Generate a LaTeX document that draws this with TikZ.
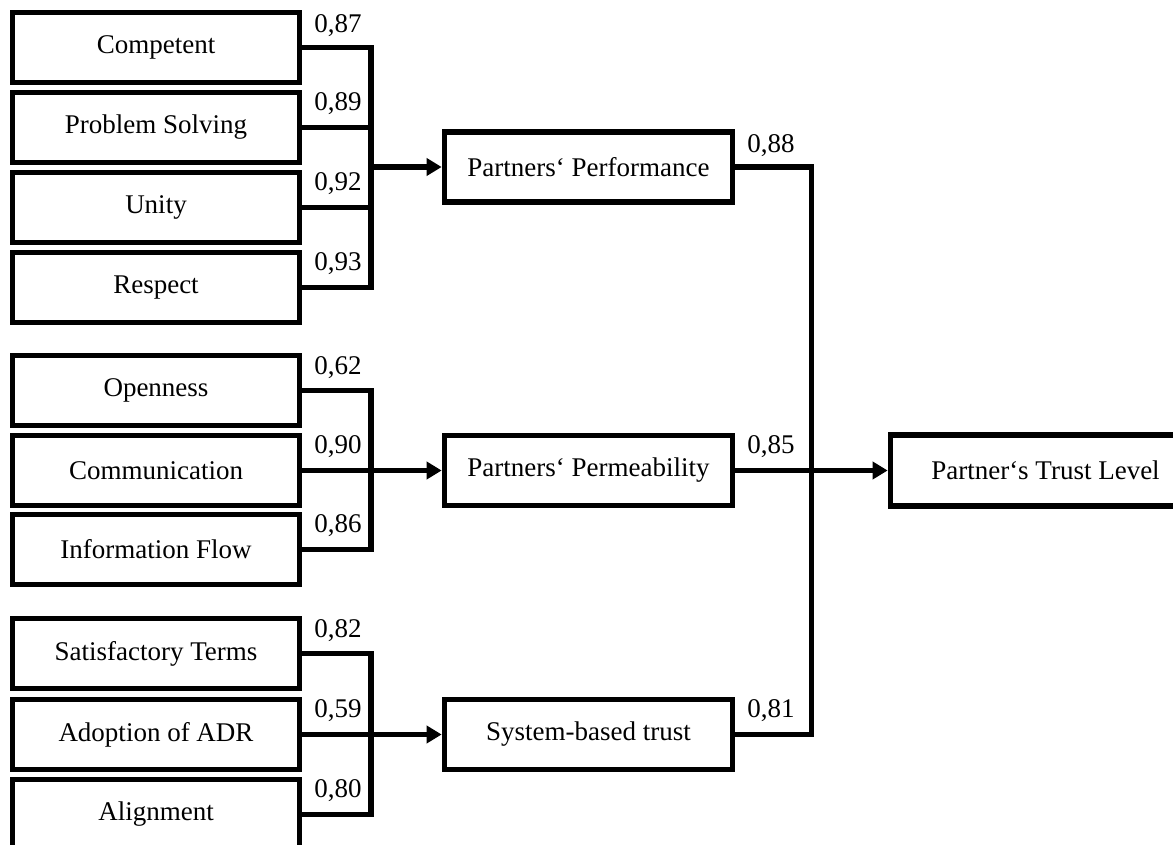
\documentclass[tikz,border=0pt]{standalone}
\usepackage{fontspec}
\setmainfont{Liberation Serif}
\usetikzlibrary{arrows.meta}
\begin{document}
\begin{tikzpicture}[x=1pt,y=-1pt,
  every node/.style={font=\fontsize{27}{32}\selectfont, inner sep=0pt},
  itembox/.style={draw, line width=5.7pt, minimum width=287pt, minimum height=70pt},
  factorbox/.style={draw, line width=5.7pt, minimum width=288pt, minimum height=70pt},
  link/.style={line width=5.7pt},
  flow/.style={line width=5.7pt, -{Triangle[length=15pt,width=17pt]}},
  weight/.style={anchor=base}]
\useasboundingbox[fill=white] (0,0) rectangle (1173,845);
\clip (0,0) rectangle (1173,845);

% indicator items
\node[itembox] (comp) at (156,47.5) {Competent};
\node[itembox] (prob) at (156,127.5) {Problem Solving};
\node[itembox] (unit) at (156,207.5) {Unity};
\node[itembox] (resp) at (156,287.5) {Respect};

\node[itembox] (open) at (156,390.5) {Openness};
\node[itembox] (comm) at (156,470.5) {Communication};
\node[itembox] (info) at (156,549.5) {Information Flow};

\node[itembox] (sati) at (156,653.5) {Satisfactory Terms};
\node[itembox] (adop) at (156,734.5) {Adoption of ADR};
\node[itembox] (alig) at (156,814.5) {Alignment};

% latent factors
\node[factorbox] (perf) at (588.5,167) {Partners‘ Performance};
\node[factorbox] (perm) at (588.5,470.5) {Partners‘ Permeability};
\node[factorbox] (syst) at (588.5,734.5) {System-based trust};

% overall construct
\node[draw, line width=5.7pt, minimum width=310pt, minimum height=71pt] (trst) at (1045.5,470.5) {Partner‘s Trust Level};

% junction points
\coordinate (ja) at (371,167);
\coordinate (jb) at (371,470.5);
\coordinate (jc) at (371,734.5);
\coordinate (jd) at (811.5,470.5);

% group 1
\draw[link] (comp.east) -| (ja) |- (resp.east);
\draw[link] (prob.east) -- (prob.east -| ja);
\draw[link] (unit.east) -- (unit.east -| ja);
\draw[flow] (ja) -- (perf.west);

% group 2
\draw[link] (open.east) -| (jb) |- (info.east);
\draw[flow] (comm.east) -- (perm.west);

% group 3
\draw[link] (sati.east) -| (jc) |- (alig.east);
\draw[flow] (adop.east) -- (syst.west);

% factors to construct
\draw[link] (perf.east) -| (jd) |- (syst.east);
\draw[flow] (perm.east) -- (trst.west);

% loadings
\node[weight] (w1) at (338,33) {0,87};
\node[weight] (w2) at (338,111) {0,89};
\node[weight] (w3) at (338,190.5) {0,92};
\node[weight] (w4) at (338,270.5) {0,93};
\node[weight] (w5) at (338,374) {0,62};
\node[weight] (w6) at (338,453.5) {0,90};
\node[weight] (w7) at (338,532.5) {0,86};
\node[weight] (w8) at (338,637) {0,82};
\node[weight] (w9) at (338,717.5) {0,59};
\node[weight] (w10) at (338,797.5) {0,80};
\node[weight] (w11) at (771,153) {0,88};
\node[weight] (w12) at (771,453.5) {0,85};
\node[weight] (w13) at (771,717) {0,81};
\end{tikzpicture}
\end{document}
